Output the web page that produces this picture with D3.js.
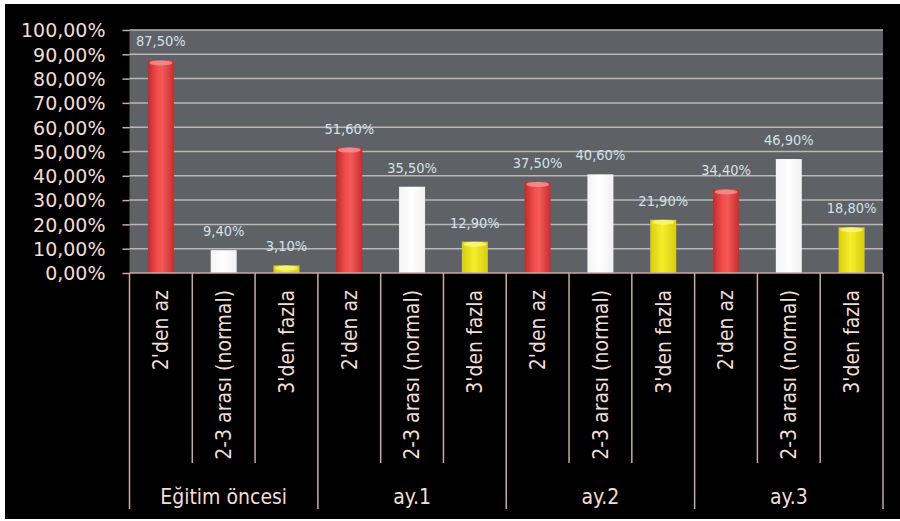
<!DOCTYPE html>
<html><head><meta charset="utf-8">
<script src="https://cdn.jsdelivr.net/npm/d3@7"></script>
<style>html,body{margin:0;padding:0;background:#fff;}svg{display:block;}</style>
</head><body>
<svg id="c" width="900" height="521"></svg>
<script>
const groups = ["Eğitim öncesi", "ay.1", "ay.2", "ay.3"];
const categories = ["2'den az", "2-3 arası (normal)", "3'den fazla"];
const values = [
  [87.5, 9.4, 3.1],
  [51.6, 35.5, 12.9],
  [37.5, 40.6, 21.9],
  [34.4, 46.9, 18.8]
];
const valueLabels = [
  ["87,50%", "9,40%", "3,10%"],
  ["51,60%", "35,50%", "12,90%"],
  ["37,50%", "40,60%", "21,90%"],
  ["34,40%", "46,90%", "18,80%"]
];
const yTicks = [0,10,20,30,40,50,60,70,80,90,100];
const yTickLabels = ["0,00%","10,00%","20,00%","30,00%","40,00%","50,00%","60,00%","70,00%","80,00%","90,00%","100,00%"];

const svg = d3.select("#c");
const W = 900, H = 521;
const plot = {l:129.5, r:883, t:30, b:273};
const font = "'DejaVu Sans Condensed','DejaVu Sans',sans-serif";
const txt = "#f2ddd8";
const sep = "#c9aaa5";

// background
svg.append("rect").attr("width",W).attr("height",H).attr("fill","#ffffff");
svg.append("rect").attr("x",5).attr("y",4).attr("width",W-5).attr("height",515).attr("fill","#000");

// flatten
const rows = [];
groups.forEach((g,gi)=>categories.forEach((c,ci)=>rows.push({g,gi,c,ci,v:values[gi][ci],lab:valueLabels[gi][ci],key:gi*3+ci})));

const x = d3.scaleBand().domain(rows.map(d=>d.key)).range([plot.l, plot.r]).paddingInner(0).paddingOuter(0);
const y = d3.scaleLinear().domain([0,100]).range([plot.b, plot.t]);

// gradients
const defs = svg.append("defs");
function grad(id, stops){
  const g = defs.append("linearGradient").attr("id",id).attr("x1","0").attr("x2","1").attr("y1","0").attr("y2","0");
  stops.forEach(s=>g.append("stop").attr("offset",s[0]).attr("stop-color",s[1]));
}
grad("gRed",[["0%","#c02c2c"],["35%","#f04c4a"],["55%","#f45a58"],["100%","#c62e2e"]]);
grad("gWhite",[["0%","#f4f4f4"],["50%","#ffffff"],["100%","#f0f0f0"]]);
grad("gYel",[["0%","#d6cc12"],["45%","#f6ee2a"],["100%","#d8cc14"]]);
const fills = ["url(#gRed)","url(#gWhite)","url(#gYel)"];
const tops = ["#f59a9a","#ffffff","#fbf590"];

// plot area
svg.append("rect").attr("x",plot.l).attr("y",plot.t).attr("width",plot.r-plot.l).attr("height",plot.b-plot.t).attr("fill","#5e6165");

// gridlines
svg.append("g").selectAll("line").data(yTicks.filter(t=>t>0)).join("line")
  .attr("x1",plot.l).attr("x2",plot.r).attr("y1",d=>y(d)).attr("y2",d=>y(d))
  .attr("stroke","#bfb6b7").attr("stroke-width",1.5);

// y axis
const yAxis = d3.axisLeft(y).tickValues(yTicks).tickSize(7).tickPadding(17)
  .tickFormat((d,i)=>yTickLabels[i]);
const ya = svg.append("g").attr("transform",`translate(${plot.l},0)`).call(yAxis);
ya.select(".domain").remove();
ya.selectAll(".tick line").attr("stroke",sep).attr("stroke-width",1.5);
ya.selectAll(".tick text").attr("fill",txt).attr("font-family","'DejaVu Sans',sans-serif").attr("font-size",19).attr("dy","0.36em");

// bars
const bw = 26;
const bars = svg.append("g");
bars.selectAll("rect").data(rows).join("rect")
  .attr("x",d=>x(d.key)+x.bandwidth()/2-bw/2)
  .attr("y",d=>y(d.v))
  .attr("width",bw)
  .attr("height",d=>y(0)-y(d.v))
  .attr("fill",d=>fills[d.ci]);
bars.selectAll("ellipse").data(rows.filter(d=>d.ci!==1)).join("ellipse")
  .attr("cx",d=>x(d.key)+x.bandwidth()/2)
  .attr("cy",d=>y(d.v)+2.5)
  .attr("rx",bw/2-1.5).attr("ry",2.5)
  .attr("fill",d=>tops[d.ci]).attr("opacity",0.75);

// value labels
svg.append("g").selectAll("text").data(rows).join("text")
  .attr("x",d=>x(d.key)+x.bandwidth()/2)
  .attr("y",d=>y(d.v)-14)
  .attr("text-anchor","middle")
  .attr("font-family",font).attr("font-size",14.5)
  .attr("fill","#d3e2ea")
  .text(d=>d.lab);

// x axis baseline
svg.append("line").attr("x1",plot.l).attr("x2",plot.r).attr("y1",plot.b).attr("y2",plot.b).attr("stroke",sep).attr("stroke-width",1.5);

// separators
const bounds = d3.range(rows.length+1);
svg.append("g").selectAll("line").data(bounds).join("line")
  .attr("x1",i=> i<rows.length ? x(i) : plot.r)
  .attr("x2",i=> i<rows.length ? x(i) : plot.r)
  .attr("y1",plot.b)
  .attr("y2",i=> i%3===0 ? 509 : 463)
  .attr("stroke",sep).attr("stroke-width",1.5);

// category labels
svg.append("g").selectAll("text").data(rows).join("text")
  .attr("transform",d=>`translate(${x(d.key)+x.bandwidth()/2},290) rotate(-90)`)
  .attr("text-anchor","end").attr("dy","0.35em")
  .attr("font-family",font).attr("font-size",21).attr("fill",txt)
  .text(d=>d.c);

// group labels
svg.append("g").selectAll("text").data(groups).join("text")
  .attr("x",(g,gi)=>(x(gi*3)+(gi*3+3<rows.length?x(gi*3+3):plot.r))/2)
  .attr("y",504)
  .attr("text-anchor","middle")
  .attr("font-family",font).attr("font-size",21).attr("fill",txt)
  .text(d=>d);
</script>
</body></html>
